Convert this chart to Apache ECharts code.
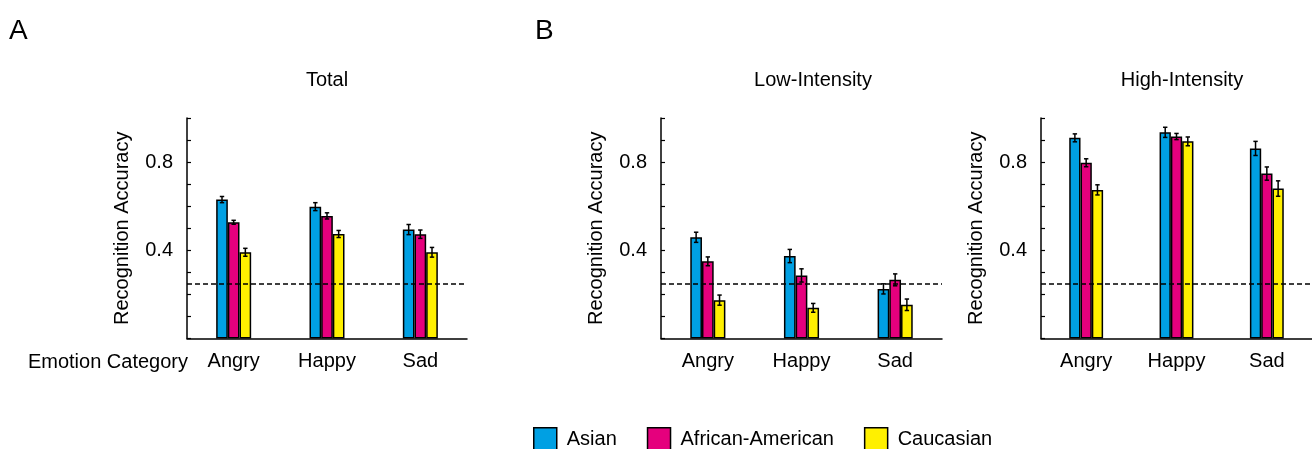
<!DOCTYPE html>
<html>
<head>
<meta charset="utf-8">
<script src="https://cdn.jsdelivr.net/npm/echarts@6/dist/echarts.min.js"></script>
<style>
html,body{margin:0;padding:0;background:#fff;}
#chart{width:1312px;height:449px;}
</style>
</head>
<body>
<div id="chart"></div>
<script>
// ---- data ----
const categories = ['Angry', 'Happy', 'Sad'];
const groupNames = ['Asian', 'African-American', 'Caucasian'];
const panelTitles = ['Total', 'Low-Intensity', 'High-Intensity'];
const yTickLabels = [0.4, 0.8];
const chanceLevel = 0.25;

const totalAsian = [0.630, 0.598, 0.494];
const totalAfrican = [0.527, 0.556, 0.473];
const totalCaucasian = [0.391, 0.474, 0.391];
const totalAsianErr = [0.014, 0.018, 0.023];
const totalAfricanErr = [0.009, 0.014, 0.019];
const totalCaucasianErr = [0.018, 0.016, 0.022];

const lowAsian = [0.459, 0.374, 0.225];
const lowAfrican = [0.350, 0.286, 0.266];
const lowCaucasian = [0.174, 0.139, 0.153];
const lowAsianErr = [0.023, 0.030, 0.023];
const lowAfricanErr = [0.020, 0.030, 0.027];
const lowCaucasianErr = [0.023, 0.020, 0.026];

const highAsian = [0.910, 0.935, 0.862];
const highAfrican = [0.797, 0.916, 0.748];
const highCaucasian = [0.674, 0.894, 0.680];
const highAsianErr = [0.018, 0.023, 0.032];
const highAfricanErr = [0.018, 0.014, 0.030];
const highCaucasianErr = [0.023, 0.020, 0.035];

// ---- styling ----
const FONT = '"Liberation Sans", Arial, Helvetica, sans-serif';
const colors = ['#00A0E3', '#E5007D', '#FFF000'];
const panels = [
  {vals: [totalAsian, totalAfrican, totalCaucasian], errs: [totalAsianErr, totalAfricanErr, totalCaucasianErr], left: 187, width: 280, titleX: 327},
  {vals: [lowAsian, lowAfrican, lowCaucasian], errs: [lowAsianErr, lowAfricanErr, lowCaucasianErr], left: 661, width: 281, titleX: 813},
  {vals: [highAsian, highAfrican, highCaucasian], errs: [highAsianErr, highAfricanErr, highCaucasianErr], left: 1041, width: 282, titleX: 1182}
];
const BAR_FRAC = 0.125;
const TOP = 118, HEIGHT = 220.5;

const grids = [], xAxes = [], yAxes = [], series = [];
panels.forEach((p, pi) => {
  grids.push({left: p.left, top: TOP, width: p.width, height: HEIGHT, containLabel: false});
  xAxes.push({
    type: 'category', gridIndex: pi, data: categories,
    axisLine: {show: true, lineStyle: {color: '#000', width: 1.5}},
    axisTick: {show: false},
    axisLabel: {color: '#000', fontSize: 20, fontFamily: FONT, margin: 13},
    splitLine: {show: false}
  });
  yAxes.push({
    type: 'value', gridIndex: pi, min: 0, max: 1, interval: 0.1,
    name: 'Recognition Accuracy', nameLocation: 'middle', nameGap: 55,
    nameTextStyle: {color: '#000', fontSize: 20, fontFamily: FONT},
    axisLine: {show: true, lineStyle: {color: '#000', width: 1.5}},
    axisTick: {show: true, inside: true, length: 4, lineStyle: {color: '#000', width: 1.2}},
    axisLabel: {
      color: '#000', fontSize: 20, fontFamily: FONT, margin: 14,
      formatter: v => yTickLabels.some(t => Math.abs(t - v) < 1e-6) ? v.toFixed(1) : ''
    },
    splitLine: {show: false}
  });
  p.vals.forEach((vals, gi) => {
    series.push({
      type: 'bar', name: groupNames[gi], xAxisIndex: pi, yAxisIndex: pi,
      data: vals, barWidth: (BAR_FRAC * 100) + '%', barGap: '0%',
      itemStyle: {color: colors[gi], borderColor: '#000', borderWidth: 1.5},
      silent: true, z: 2
    });
  });
  p.vals.forEach((vals, gi) => {
    const errs = p.errs[gi];
    const s = {
      type: 'custom', name: 'err-' + pi + '-' + gi, xAxisIndex: pi, yAxisIndex: pi,
      data: vals.map((v, ci) => [ci, v, errs[ci]]),
      encode: {x: 0, y: 1},
      z: 5, silent: true,
      renderItem: (params, api) => {
        const ci = api.value(0), v = api.value(1), e = api.value(2);
        const band = api.size([1, 0])[0];
        const bw = band * BAR_FRAC;
        const c = api.coord([ci, v]);
        const x = c[0] + (gi - 1) * bw;
        const yt = api.coord([ci, v + e])[1];
        const yb = api.coord([ci, v - e])[1];
        const st = {stroke: '#000', lineWidth: 1.5};
        const cw = 2.2;
        return {type: 'group', children: [
          {type: 'line', shape: {x1: x, y1: yt, x2: x, y2: yb}, style: st},
          {type: 'line', shape: {x1: x - cw, y1: yt, x2: x + cw, y2: yt}, style: st},
          {type: 'line', shape: {x1: x - cw, y1: yb, x2: x + cw, y2: yb}, style: st}
        ]};
      }
    };
    if (gi === 2) {
      s.markLine = {
        silent: true, symbol: ['none', 'none'], label: {show: false},
        lineStyle: {color: '#000', type: [5, 3], width: 1.5},
        data: [{yAxis: chanceLevel}]
      };
    }
    series.push(s);
  });
});

const graphic = [
  {type: 'text', left: 9, top: 17, style: {text: 'A', font: '28px ' + FONT, fill: '#000'}},
  {type: 'text', left: 535, top: 17, style: {text: 'B', font: '28px ' + FONT, fill: '#000'}},
  {type: 'text', x: 188, y: 362, style: {text: 'Emotion Category', font: '20px ' + FONT, fill: '#000', align: 'right', verticalAlign: 'middle'}}
];
panels.forEach((p, pi) => {
  graphic.push({type: 'text', x: p.titleX, y: 80, style: {text: panelTitles[pi], font: '20px ' + FONT, fill: '#000', align: 'center', verticalAlign: 'middle'}});
});

const chart = echarts.init(document.getElementById('chart'), null, {renderer: 'canvas'});
chart.setOption({
  animation: false,
  backgroundColor: '#fff',
  textStyle: {fontFamily: FONT},
  grid: grids, xAxis: xAxes, yAxis: yAxes, series: series,
  legend: {
    data: groupNames, left: 533, top: 427, orient: 'horizontal', padding: 0,
    itemWidth: 23, itemHeight: 23, itemGap: 30, icon: 'rect',
    itemStyle: {borderColor: '#000', borderWidth: 1.5},
    textStyle: {color: '#000', fontSize: 20, fontFamily: FONT, padding: [0, 0, 0, 5]},
    selectedMode: false
  },
  graphic: graphic
});
</script>
</body>
</html>
